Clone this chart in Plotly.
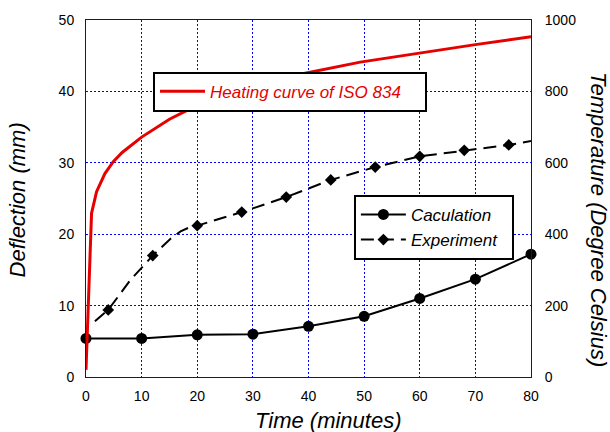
import plotly.graph_objects as go

# Calculated deflection (mm)
time_calc = [0, 10, 20, 30, 40, 50, 60, 70, 80]
defl_calc = [5.4, 5.4, 5.9, 6.0, 7.1, 8.5, 11.0, 13.7, 17.2]

# Experimental deflection (mm) - dense line points
time_exp = [1.6, 4.0, 8.0, 12.0, 15.1, 17.0, 18.7, 20.0, 28.0, 36.0, 44.0, 52.0, 60.0, 68.0, 76.0, 80.0]
defl_exp = [7.8, 9.4, 13.6, 17.0, 19.3, 20.4, 21.0, 21.2, 23.1, 25.2, 27.6, 29.4, 30.9, 31.75, 32.5, 33.05]
# Experimental marker points
time_exp_mk = [4, 12, 20, 28, 36, 44, 52, 60, 68, 76]
defl_exp_mk = [9.4, 17.0, 21.2, 23.1, 25.2, 27.6, 29.4, 30.9, 31.75, 32.5]

# ISO 834 heating curve (deg C)
time_iso = [0, 1.0, 1.9, 3.4, 4.9, 6.5, 10, 15, 18.7, 25, 30, 38.5, 49.3, 60, 70, 80]
temp_iso = [20, 459, 519, 570, 603, 629, 672, 722, 751, 790, 815, 848, 882, 908, 931, 953]

x_ticks = [0, 10, 20, 30, 40, 50, 60, 70, 80]
y_ticks = [0, 10, 20, 30, 40, 50]
y2_ticks = [0, 200, 400, 600, 800, 1000]

FONT = "Liberation Sans, Arial, sans-serif"
RED = "#e60000"
BLUE = "#0000ff"

fig = go.Figure()

fig.add_trace(go.Scatter(
    x=time_iso, y=temp_iso, yaxis="y2", mode="lines",
    line=dict(color=RED, width=3),
    name="<i>Heating curve of ISO 834</i>&nbsp;&nbsp;&nbsp;&nbsp;", legend="legend2",
    cliponaxis=False,
))

fig.add_trace(go.Scatter(
    x=time_calc, y=defl_calc, mode="lines+markers",
    line=dict(color="black", width=2),
    marker=dict(symbol="circle", size=11, color="black"),
    name="<i>Caculation</i>", cliponaxis=False,
))

fig.add_trace(go.Scatter(
    x=time_exp, y=defl_exp, mode="lines",
    line=dict(color="black", width=2, dash="13px,7px"),
    showlegend=False, cliponaxis=False,
))
fig.add_trace(go.Scatter(
    x=time_exp_mk, y=defl_exp_mk, mode="markers",
    marker=dict(symbol="diamond", size=9, color="black"),
    showlegend=False, cliponaxis=False,
))
# legend entry for experiment
fig.add_trace(go.Scatter(
    x=[None], y=[None], mode="lines+markers",
    line=dict(color="black", width=2, dash="13px,7px"),
    marker=dict(symbol="diamond", size=9, color="black"),
    name="<i>Experiment</i>&nbsp;&nbsp;",
))

axis_common = dict(
    showgrid=True, gridcolor=BLUE, gridwidth=1, griddash="2px,2px",
    showline=True, linecolor=BLUE, linewidth=1, mirror=True,
    zeroline=False, ticks="outside", tickcolor="rgba(0,0,0,0)",
    tickfont=dict(family=FONT, size=14, color="black"),
)

fig.update_layout(
    width=610, height=432,
    margin=dict(l=86, r=79, t=17, b=55),
    paper_bgcolor="white", plot_bgcolor="white",
    font=dict(family=FONT, color="black"),
    xaxis=dict(range=[0, 80], tickvals=x_ticks, ticklen=6, **axis_common),
    yaxis=dict(range=[0, 50], tickvals=y_ticks, ticklen=8, **axis_common),
    yaxis2=dict(range=[0, 1000], tickvals=y2_ticks, overlaying="y", side="right",
                showgrid=False, showline=False, zeroline=False,
                ticks="outside", ticklen=10, tickcolor="rgba(0,0,0,0)",
                tickfont=dict(family=FONT, size=14, color="black")),
    legend=dict(x=0.602, y=0.51, xanchor="left", yanchor="top",
                bgcolor="white", bordercolor="black", borderwidth=2,
                font=dict(family=FONT, size=17, color="black"), itemwidth=45),
    legend2=dict(x=0.1506, y=0.855, xanchor="left", yanchor="top",
                 bgcolor="white", bordercolor="black", borderwidth=2,
                 font=dict(family=FONT, size=17, color=RED), itemwidth=45),
    annotations=[
        dict(text="<i>Time (minutes)</i>", xref="paper", yref="paper",
             x=0.546, y=-0.122, xanchor="center", yanchor="middle",
             showarrow=False, font=dict(family=FONT, size=22, color="black")),
        dict(text="<i>Deflection (mm)</i>", xref="paper", yref="paper",
             x=-0.153, y=0.497, xanchor="center", yanchor="middle", textangle=-90,
             showarrow=False, font=dict(family=FONT, size=22, color="black")),
        dict(text="<i>Temperature (Degree Celsius)</i>", xref="paper", yref="paper",
             x=1.153, y=0.442, xanchor="center", yanchor="middle", textangle=90,
             showarrow=False, font=dict(family=FONT, size=22, color="black")),
    ],
)

fig.write_html("out.html")
